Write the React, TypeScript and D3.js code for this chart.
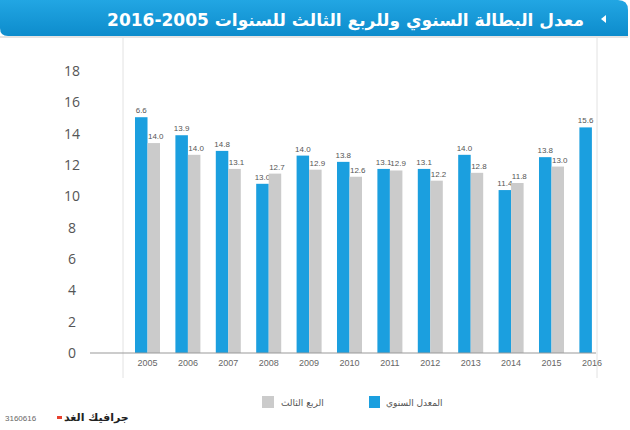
import React from "react";
import * as d3 from "d3";

// values
const years = ["2005", "2006", "2007", "2008", "2009", "2010", "2011", "2012", "2013", "2014", "2015", "2016"];
const annual = [15.05, 13.9, 12.9, 10.8, 12.6, 12.2, 11.75, 11.75, 12.65, 10.4, 12.5, 14.4];
const thirdQuarter = [13.4, 12.65, 11.75, 11.45, 11.7, 11.25, 11.65, 11.0, 11.5, 10.85, 11.9, null];
const annualLabels = ["6.6", "13.9", "14.8", "13.0", "14.0", "13.8", "13.1", "13.1", "14.0", "11.4", "13.8", "15.6"];
const quarterLabels = ["14.0", "14.0", "13.1", "12.7", "12.9", "12.6", "12.9", "12.2", "12.8", "11.8", "13.0", ""];
const yTicks = [0, 2, 4, 6, 8, 10, 12, 14, 16, 18];

const title = "معدل البطالة السنوي وللربع الثالث للسنوات 2005-2016";
const legendAnnual = "المعدل السنوي";
const legendQuarter = "الربع الثالث";
const credit = "جرافيك الغد";
const code = "3160616";

const W = 630;
const H = 430;
const BLUE = "#1b9fdf";
const GREY = "#cbcbcb";
const AR_FONT = "'DejaVu Sans', sans-serif";
const NUM_FONT = "'Liberation Sans Narrow', 'Liberation Sans', sans-serif";

const App: React.FC = () => {
  const y = d3.scaleLinear().domain([0, 18]).range([353, 71]);
  const x = d3.scaleBand().domain(years).range([135, 604.4]).paddingInner(0.381).paddingOuter(0);
  const sub = d3.scaleBand().domain(["annual", "quarter"]).range([0, x.bandwidth()]);

  return (
    <svg
      width={W}
      height={H}
      style={{ position: "absolute", left: 0, top: 0, background: "#fff" }}
    >
      <defs>
        <linearGradient id="banner" x1="0" y1="0" x2="0" y2="1">
          <stop offset="0" stopColor="#22a6e3" />
          <stop offset="1" stopColor="#0d8ccc" />
        </linearGradient>
      </defs>

      {/* banner */}
      <path
        d="M0,0 L618,0 Q628,0 628,10 L628,36 L8,36 Q0,36 0,28 Z"
        fill="url(#banner)"
      />
      <rect x={0} y={36} width={628} height={2} fill="#e4e4e4" />
      <path d="M606,15 L606,23 L601,19 Z" fill="#fff" />
      <text
        x={584}
        y={26}
        direction="rtl"
        textAnchor="start"
        fontFamily={AR_FONT}
        fontWeight="bold"
        fontSize={17}
        fill="#fff"
      >
        {title}
      </text>

      {/* frame lines */}
      <line x1={123} x2={123} y1={38} y2={378} stroke="#e2e2e2" />
      <line x1={597} x2={597} y1={38} y2={378} stroke="#e2e2e2" />

      {/* y ticks */}
      {yTicks.map((t) => (
        <text
          key={t}
          x={72}
          y={y(t) + 5}
          textAnchor="middle"
          fontFamily="'Open Sans', sans-serif"
          fontSize={14}
          fill="#555"
        >
          {t}
        </text>
      ))}

      {/* bars */}
      {years.map((yr, i) => (
        <g key={yr} transform={`translate(${x(yr)},0)`}>
          <rect
            x={sub("annual")}
            y={y(annual[i])}
            width={sub.bandwidth()}
            height={y(0) - y(annual[i])}
            fill={BLUE}
          />
          <text
            x={sub("annual")! + sub.bandwidth() / 2}
            y={y(annual[i]) - 4}
            textAnchor="middle"
            fontFamily={NUM_FONT}
            fontSize={8}
            fill="#555"
          >
            {annualLabels[i]}
          </text>
          {thirdQuarter[i] !== null && (
            <>
              <rect
                x={sub("quarter")}
                y={y(thirdQuarter[i]!)}
                width={sub.bandwidth()}
                height={y(0) - y(thirdQuarter[i]!)}
                fill={GREY}
              />
              <text
                x={sub("quarter")! + sub.bandwidth() / 2 + 2}
                y={y(thirdQuarter[i]!) - 4}
                textAnchor="middle"
                fontFamily={NUM_FONT}
                fontSize={8}
                fill="#555"
              >
                {quarterLabels[i]}
              </text>
            </>
          )}
          <text
            x={x.bandwidth() / 2}
            y={366}
            textAnchor="middle"
            fontFamily={NUM_FONT}
            fontSize={9}
            fill="#666"
          >
            {yr}
          </text>
        </g>
      ))}

      {/* x axis */}
      <line x1={90} x2={596} y1={y(0)} y2={y(0)} stroke="#9a9a9a" strokeWidth={1.2} />

      {/* legend */}
      <rect x={262} y={396} width={12} height={12} fill={GREY} />
      <text x={281} y={406} fontFamily={AR_FONT} fontSize={9} fill="#555">
        {legendQuarter}
      </text>
      <rect x={369} y={396} width={11} height={12} fill={BLUE} />
      <text x={386} y={406} fontFamily={AR_FONT} fontSize={9} fill="#555">
        {legendAnnual}
      </text>

      {/* credit */}
      <text x={5} y={421} fontFamily={NUM_FONT} fontSize={8} fill="#666">
        {code}
      </text>
      <text x={64} y={421} fontFamily={AR_FONT} fontWeight="bold" fontSize={11} fill="#222">
        {credit}
      </text>
      <rect x={57} y={416} width={5} height={3} fill="#e8412e" />
    </svg>
  );
};

export default App;
